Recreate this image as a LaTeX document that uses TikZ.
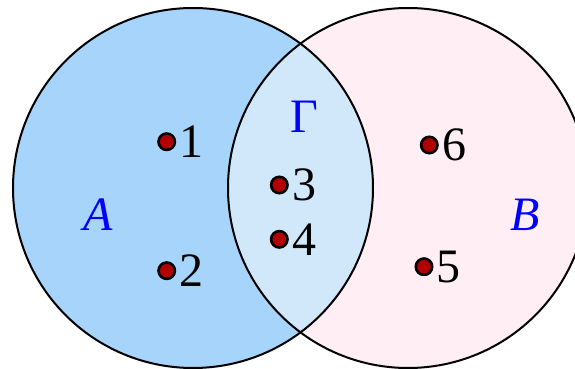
\documentclass[tikz,border=0pt]{standalone}
\usepackage{fontspec}
\setmainfont{Liberation Serif}
\usetikzlibrary{positioning}
\definecolor{setblue}{RGB}{166,212,250}
\definecolor{setpink}{RGB}{255,238,243}
\definecolor{setmeet}{RGB}{208,232,250}
\definecolor{dotred}{RGB}{178,0,0}
\definecolor{labblue}{RGB}{0,0,255}

\begin{document}
\begin{tikzpicture}[x=0.5pt,y=-0.5pt,
  elem/.style={circle,draw=black,fill=dotred,line width=1.3pt,minimum size=8.2pt,inner sep=0pt},
  num/.style={font=\fontsize{24}{28}\selectfont,inner sep=0pt},
  setname/.style={font=\fontsize{24}{28}\selectfont\itshape,text=labblue,inner sep=0pt}]
\useasboundingbox (0,0) rectangle (575,369);
% the two sets
\coordinate (cA) at (193,188);
\coordinate (cB) at (408,188);
\fill[setblue] (cA) circle[radius=90pt];
\fill[setpink] (cB) circle[radius=90pt];
\begin{scope}
\clip (cA) circle[radius=90pt];
\fill[setmeet] (cB) circle[radius=90pt];
\end{scope}
\draw[line width=1pt] (cA) circle[radius=90pt];
\draw[line width=1pt] (cB) circle[radius=90pt];
% set names
\node[setname] (nA) at (98,215) {A};
\node[setname] (nB) at (525,215) {B};
\node[font=\fontsize{24}{28}\selectfont,text=labblue,inner sep=0pt] (nG) at (304,117) {Γ};
% elements
\node[elem] (p1) at (166.7,141.7) {};
\node[elem] (p2) at (166.7,270.7) {};
\node[elem] (p3) at (279.3,185) {};
\node[elem] (p4) at (279.3,239.3) {};
\node[elem] (p5) at (424,266.7) {};
\node[elem] (p6) at (429.3,145) {};
\node[num,right=1.5pt of p1] (l1) {1};
\node[num,right=1.5pt of p2] (l2) {2};
\node[num,right=1.5pt of p3] (l3) {3};
\node[num,right=1.5pt of p4] (l4) {4};
\node[num,right=1.5pt of p5] (l5) {5};
\node[num,right=1.5pt of p6] (l6) {6};
\end{tikzpicture}
\end{document}
